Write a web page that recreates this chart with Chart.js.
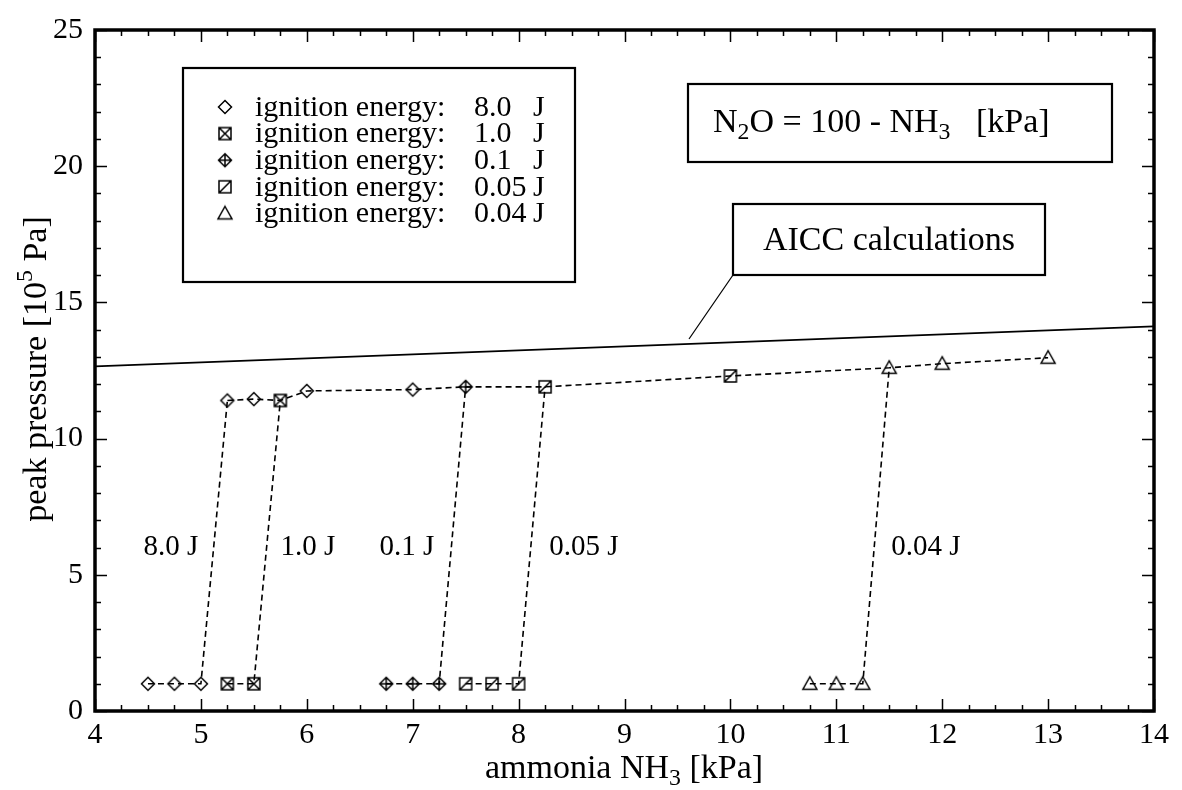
<!DOCTYPE html>
<html>
<head>
<meta charset="utf-8">
<script src="https://cdn.jsdelivr.net/npm/chart.js@4"></script>
<style>
  html, body { margin: 0; padding: 0; background: #fff; }
  canvas { display: block; }
</style>
</head>
<body>
<canvas id="pressureChart" width="1182" height="790"></canvas>
<script>
// values: ammonia NH3 [kPa] vs peak pressure [10^5 Pa]
const energies = ['8.0', '1.0', '0.1', '0.05', '0.04']

const e8X = [4.5, 4.75, 5.0, 5.25, 5.5, 6.0, 7.0]
const e8Y = [1.0, 1.0, 1.0, 11.4, 11.45, 11.75, 11.8]
const e1X = [5.25, 5.5, 5.75]
const e1Y = [1.0, 1.0, 11.4]
const e01X = [6.75, 7.0, 7.25, 7.5]
const e01Y = [1.0, 1.0, 1.0, 11.9]
const e005X = [7.5, 7.75, 8.0, 8.25, 10.0]
const e005Y = [1.0, 1.0, 1.0, 11.9, 12.3]
const e004X = [10.75, 11.0, 11.25, 11.5, 12.0, 13.0]
const e004Y = [1.0, 1.0, 1.0, 12.6, 12.75, 12.97]

const aiccX = [4, 14]
const aiccY = [12.65, 14.12]

const xMin = 4, xMax = 14, yMin = 0, yMax = 25

const FONT = '"Liberation Serif", "Times New Roman", Times, serif'

function makeMarker(kind) {
  const c = document.createElement('canvas')
  c.width = 18
  c.height = 18
  const g = c.getContext('2d')
  g.strokeStyle = '#000'
  g.lineWidth = 1.5
  const m = 9
  g.beginPath()
  if (kind === 'diamond' || kind === 'diamondPlus') {
    const r = 6.5
    g.moveTo(m, m - r); g.lineTo(m + r, m); g.lineTo(m, m + r); g.lineTo(m - r, m); g.closePath()
    if (kind === 'diamondPlus') {
      g.moveTo(m, m - r); g.lineTo(m, m + r)
      g.moveTo(m - r, m); g.lineTo(m + r, m)
    }
  } else if (kind === 'squareX' || kind === 'squareSlash') {
    const s = 6
    g.rect(m - s, m - s, 2 * s, 2 * s)
    g.moveTo(m - s, m + s); g.lineTo(m + s, m - s)
    if (kind === 'squareX') { g.moveTo(m - s, m - s); g.lineTo(m + s, m + s) }
  } else {
    g.moveTo(m, m - 7); g.lineTo(m + 7, m + 5.5); g.lineTo(m - 7, m + 5.5); g.closePath()
  }
  g.stroke()
  return c
}

const markers = ['diamond', 'squareX', 'diamondPlus', 'squareSlash', 'triangle'].map(makeMarker)
const seriesX = [e8X, e1X, e01X, e005X, e004X]
const seriesY = [e8Y, e1Y, e01Y, e005Y, e004Y]

const toPoints = (xs, ys) => xs.map((x, i) => ({ x, y: ys[i] }))

// upper (ignited) branch joins all series in one dashed line
const upperPoints = seriesX
  .flatMap((xs, s) => toPoints(xs, seriesY[s]))
  .filter(p => p.y > 5)
  .sort((a, b) => a.x - b.x)

const hideUpper = ctx => (ctx.p0.parsed.y > 5 && ctx.p1.parsed.y > 5 ? 'rgba(0,0,0,0)' : '#000')

const datasets = seriesX.map((xs, i) => ({
  label: 'ignition energy: ' + energies[i] + ' J',
  data: toPoints(xs, seriesY[i]),
  showLine: true,
  borderColor: '#000',
  borderWidth: 1.6,
  borderDash: [6, 4],
  pointStyle: markers[i],
  pointRadius: 7,
  segment: { borderColor: hideUpper },
}))

datasets.push({
  label: 'upper',
  data: upperPoints,
  showLine: true,
  borderColor: '#000',
  borderWidth: 1.6,
  borderDash: [6, 4],
  pointRadius: 0,
})

datasets.push({
  label: 'AICC calculations',
  data: toPoints(aiccX, aiccY),
  showLine: true,
  borderColor: '#000',
  borderWidth: 1.8,
  pointRadius: 0,
})

function drawRich(ctx, parts, x, y, size, align) {
  const widths = parts.map(([t, k]) => {
    ctx.font = (k ? size * 0.7 : size) + 'px ' + FONT
    return ctx.measureText(t).width
  })
  const total = widths.reduce((a, b) => a + b, 0)
  let cx = align === 'left' ? x : x - total / 2
  ctx.textAlign = 'left'
  ctx.textBaseline = 'alphabetic'
  parts.forEach(([t, k], i) => {
    ctx.font = (k ? size * 0.7 : size) + 'px ' + FONT
    const dy = k === 'sub' ? size * 0.22 : k === 'sup' ? -size * 0.4 : 0
    ctx.fillText(t, cx, y + dy)
    cx += widths[i]
  })
}

const decorations = {
  id: 'decorations',
  afterDraw(chart) {
    const ctx = chart.ctx
    const a = chart.chartArea
    const xs = chart.scales.x
    const ys = chart.scales.y
    ctx.save()
    ctx.fillStyle = '#000'
    ctx.strokeStyle = '#000'

    // inside ticks on all four sides
    ctx.lineWidth = 1.5
    ctx.beginPath()
    for (let v = xMin; v <= xMax + 1e-9; v += 0.25) {
      const px = Math.round(xs.getPixelForValue(v)) + 0.5
      const len = Number.isInteger(v) ? 12 : 6
      ctx.moveTo(px, a.bottom); ctx.lineTo(px, a.bottom - len)
      ctx.moveTo(px, a.top); ctx.lineTo(px, a.top + len)
    }
    for (let v = yMin; v <= yMax; v += 1) {
      const py = Math.round(ys.getPixelForValue(v)) + 0.5
      const len = v % 5 === 0 ? 12 : 6
      ctx.moveTo(a.left, py); ctx.lineTo(a.left + len, py)
      ctx.moveTo(a.right, py); ctx.lineTo(a.right - len, py)
    }
    ctx.stroke()

    ctx.lineWidth = 3.5
    ctx.strokeRect(a.left, a.top, a.right - a.left, a.bottom - a.top)

    // legend box
    ctx.lineWidth = 2.2
    ctx.fillStyle = '#fff'
    ctx.fillRect(183, 68, 392, 214)
    ctx.strokeRect(183, 68, 392, 214)
    ctx.fillStyle = '#000'
    ctx.font = '30px ' + FONT
    ctx.textBaseline = 'middle'
    ctx.textAlign = 'left'
    energies.forEach((e, i) => {
      const y = 107 + i * 26.6
      const img = markers[i]
      ctx.drawImage(img, 225 - img.width / 2, y - img.height / 2)
      ctx.fillText('ignition energy:', 255, y + 1)
      ctx.fillText(e, 474, y + 1)
      ctx.fillText('J', 533, y + 1)
    })

    // formula box
    ctx.strokeRect(688, 84, 424, 78)
    drawRich(ctx, [['N'], ['2', 'sub'], ['O = 100 - NH'], ['3', 'sub'], ['   [kPa]']], 713, 132, 34, 'left')

    // AICC box with leader line
    ctx.strokeRect(733, 204, 312, 71)
    drawRich(ctx, [['AICC calculations']], 889, 250, 34)
    ctx.lineWidth = 1.2
    ctx.beginPath()
    ctx.moveTo(733, 275)
    ctx.lineTo(689, 339)
    ctx.stroke()

    // energy labels near the jumps
    const labels = [['8.0 J', 171], ['1.0 J', 308], ['0.1 J', 407], ['0.05 J', 584], ['0.04 J', 926]]
    labels.forEach(([t, x]) => drawRich(ctx, [[t]], x, 555, 29))

    // axis titles
    drawRich(ctx, [['ammonia NH'], ['3', 'sub'], [' [kPa]']], 624, 778, 34)
    ctx.save()
    ctx.translate(46, 369)
    ctx.rotate(-Math.PI / 2)
    drawRich(ctx, [['peak pressure [10'], ['5', 'sup'], [' Pa]']], 0, 0, 34)
    ctx.restore()

    ctx.restore()
  },
}

new Chart(document.getElementById('pressureChart'), {
  type: 'scatter',
  data: { datasets },
  options: {
    responsive: false,
    animation: false,
    layout: { padding: { top: 25, right: 28, bottom: 0, left: 0 } },
    plugins: { legend: { display: false }, tooltip: { enabled: false } },
    scales: {
      x: {
        type: 'linear',
        min: xMin,
        max: xMax,
        grid: { display: false, drawTicks: false },
        border: { display: false },
        ticks: { stepSize: 1, padding: 6, color: '#000', font: { family: FONT, size: 30 } },
        afterFit: s => { s.height = 79 },
      },
      y: {
        min: yMin,
        max: yMax,
        grid: { display: false, drawTicks: false },
        border: { display: false },
        ticks: { stepSize: 5, padding: 12, color: '#000', font: { family: FONT, size: 30 } },
        afterFit: s => { s.width = 95 },
      },
    },
  },
  plugins: [decorations],
})
</script>
</body>
</html>
